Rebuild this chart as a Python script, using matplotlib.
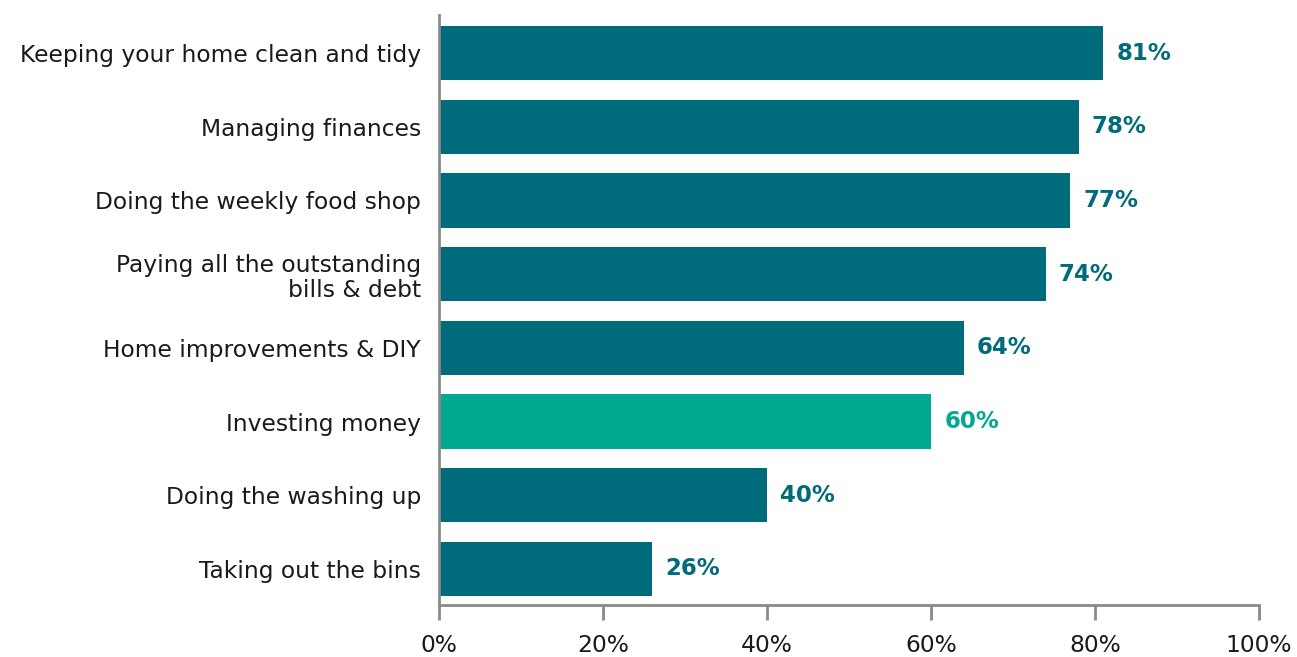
import matplotlib.pyplot as plt

plt.rcParams['font.family'] = ['DejaVu Sans']

tasks = ['Keeping your home clean and tidy', 'Managing finances',
         'Doing the weekly food shop', 'Paying all the outstanding\nbills & debt',
         'Home improvements & DIY', 'Investing money',
         'Doing the washing up', 'Taking out the bins']
shares = [81, 78, 77, 74, 64, 60, 40, 26]
highlight = 'Investing money'

dark = '#006B7A'
green = '#00A98F'
grey = '#8A8A8A'

fig = plt.figure(figsize=(12.97, 6.57), dpi=100)
ax = fig.add_axes([0.3385, 0.079, 0.6322, 0.898])

cols = [green if t == highlight else dark for t in tasks]
ypos = list(range(len(tasks)))
ax.barh(ypos, shares, height=0.735, color=cols)

for y, v, c in zip(ypos, shares, cols):
    ax.text(v + 1.6, y, f'{v}%', va='center', ha='left', fontsize=16.5,
            fontweight='bold', color=c)

ax.set_xlim(0, 100)
ax.set_ylim(7.49, -0.515)
ax.set_yticks(ypos)
ax.set_yticklabels(tasks, fontsize=16.8, color='#1a1a1a', linespacing=1.15)
ax.set_xticks(range(0, 101, 20))
ax.set_xticklabels([f'{x}%' for x in range(0, 101, 20)], fontsize=16.8, color='#1a1a1a')

ax.tick_params(axis='y', length=0, pad=13)
ax.tick_params(axis='x', length=11, width=2, color=grey, pad=10)

for s in ['top', 'right']:
    ax.spines[s].set_visible(False)
for s in ['left', 'bottom']:
    ax.spines[s].set_color(grey)
    ax.spines[s].set_linewidth(2)

fig.savefig('out.png', dpi=100)
